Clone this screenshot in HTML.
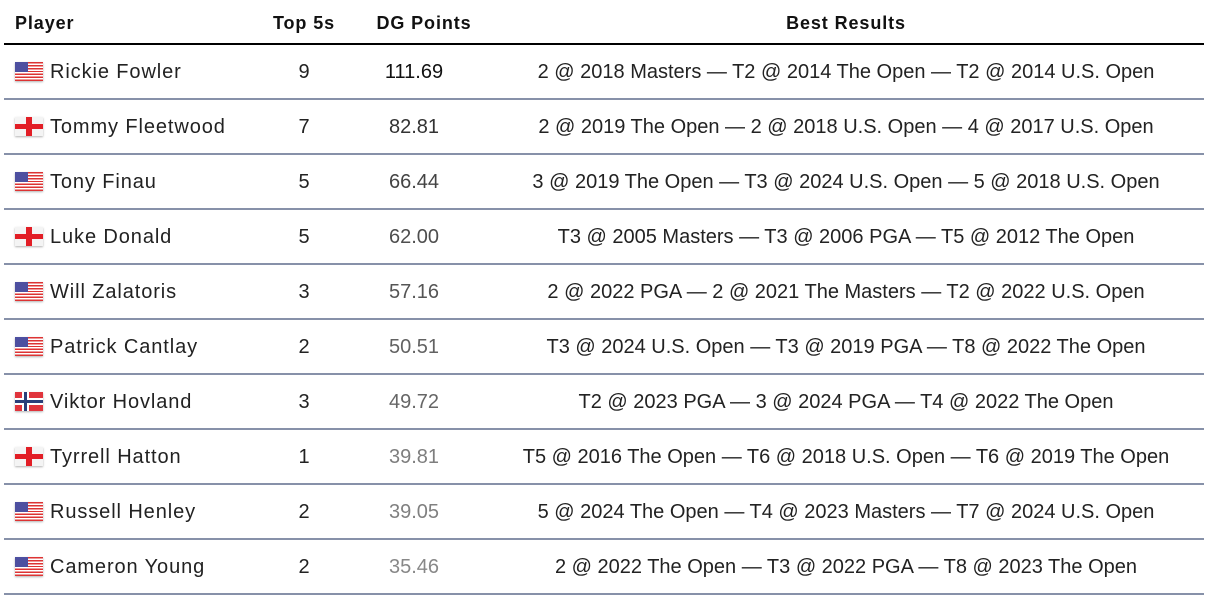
<!DOCTYPE html>
<html><head><style>
body{margin:0;width:1208px;height:598px;background:#fff;font-family:"Liberation Sans",Arial,sans-serif;color:#222;position:relative;overflow:hidden}
.h{position:absolute;top:13px;font-weight:bold;font-size:18px;letter-spacing:0.9px;color:#111}
.hl{position:absolute;left:4px;width:1200px;top:43px;height:2px;background:#000}
.row{position:absolute;left:0;width:1208px;height:55px}
.row .l{position:absolute;left:4px;width:1200px;bottom:0;height:2px;background:#8791a9}
.t{position:absolute;top:16px;font-size:20px;white-space:nowrap}
.n{letter-spacing:0.9px}
.c{transform:translateX(-50%)}
.flag{position:absolute;left:15px;top:17px;width:28px;height:19px;box-shadow:0 1px 2px rgba(0,0,0,.3)}
.us{background:repeating-linear-gradient(#d33 0 1.46px,#fff 1.46px 2.92px)}
.us::before{content:"";position:absolute;left:0;top:0;width:13px;height:10px;background:#4d4fa0}
.en{background:#f4f4f4}
.en::before{content:"";position:absolute;left:11px;top:0;width:6px;height:19px;background:#e21e26}
.en::after{content:"";position:absolute;left:0;top:7px;width:28px;height:5px;background:#e21e26}
.no{background:#e0343c}
.no::before{content:"";position:absolute;left:7px;top:0;width:7px;height:19px;background:#fff}
.no::after{content:"";position:absolute;left:0;top:6px;width:28px;height:7px;background:linear-gradient(#fff 0 2px,#2a3f7a 2px 5px,#fff 5px)}
.nob{position:absolute;left:9px;top:0;width:3px;height:19px;background:#2a3f7a;z-index:1}
</style></head><body>
<div class="h" style="left:15px">Player</div>
<div class="h" style="left:304px;transform:translateX(-50%)">Top 5s</div>
<div class="h" style="left:424px;transform:translateX(-50%)">DG Points</div>
<div class="h" style="left:846px;transform:translateX(-50%)">Best Results</div>
<div class="hl"></div>

<div class="row" style="top:45px"><div class="flag us"></div><div class="t n" style="left:50px">Rickie Fowler</div><div class="t c" style="left:304px">9</div><div class="t c" style="left:414px;color:#111">111.69</div><div class="t c" style="left:846px">2 @ 2018 Masters — T2 @ 2014 The Open — T2 @ 2014 U.S. Open</div><div class="l"></div></div>
<div class="row" style="top:100px"><div class="flag en"></div><div class="t n" style="left:50px">Tommy Fleetwood</div><div class="t c" style="left:304px">7</div><div class="t c" style="left:414px;color:#333">82.81</div><div class="t c" style="left:846px">2 @ 2019 The Open — 2 @ 2018 U.S. Open — 4 @ 2017 U.S. Open</div><div class="l"></div></div>
<div class="row" style="top:155px"><div class="flag us"></div><div class="t n" style="left:50px">Tony Finau</div><div class="t c" style="left:304px">5</div><div class="t c" style="left:414px;color:#444">66.44</div><div class="t c" style="left:846px">3 @ 2019 The Open — T3 @ 2024 U.S. Open — 5 @ 2018 U.S. Open</div><div class="l"></div></div>
<div class="row" style="top:210px"><div class="flag en"></div><div class="t n" style="left:50px">Luke Donald</div><div class="t c" style="left:304px">5</div><div class="t c" style="left:414px;color:#4e4e4e">62.00</div><div class="t c" style="left:846px">T3 @ 2005 Masters — T3 @ 2006 PGA — T5 @ 2012 The Open</div><div class="l"></div></div>
<div class="row" style="top:265px"><div class="flag us"></div><div class="t n" style="left:50px">Will Zalatoris</div><div class="t c" style="left:304px">3</div><div class="t c" style="left:414px;color:#555">57.16</div><div class="t c" style="left:846px">2 @ 2022 PGA — 2 @ 2021 The Masters — T2 @ 2022 U.S. Open</div><div class="l"></div></div>
<div class="row" style="top:320px"><div class="flag us"></div><div class="t n" style="left:50px">Patrick Cantlay</div><div class="t c" style="left:304px">2</div><div class="t c" style="left:414px;color:#626262">50.51</div><div class="t c" style="left:846px">T3 @ 2024 U.S. Open — T3 @ 2019 PGA — T8 @ 2022 The Open</div><div class="l"></div></div>
<div class="row" style="top:375px"><div class="flag no"><div class="nob"></div></div><div class="t n" style="left:50px">Viktor Hovland</div><div class="t c" style="left:304px">3</div><div class="t c" style="left:414px;color:#666">49.72</div><div class="t c" style="left:846px">T2 @ 2023 PGA — 3 @ 2024 PGA — T4 @ 2022 The Open</div><div class="l"></div></div>
<div class="row" style="top:430px"><div class="flag en"></div><div class="t n" style="left:50px">Tyrrell Hatton</div><div class="t c" style="left:304px">1</div><div class="t c" style="left:414px;color:#7e7e7e">39.81</div><div class="t c" style="left:846px">T5 @ 2016 The Open — T6 @ 2018 U.S. Open — T6 @ 2019 The Open</div><div class="l"></div></div>
<div class="row" style="top:485px"><div class="flag us"></div><div class="t n" style="left:50px">Russell Henley</div><div class="t c" style="left:304px">2</div><div class="t c" style="left:414px;color:#808080">39.05</div><div class="t c" style="left:846px">5 @ 2024 The Open — T4 @ 2023 Masters — T7 @ 2024 U.S. Open</div><div class="l"></div></div>
<div class="row" style="top:540px"><div class="flag us"></div><div class="t n" style="left:50px">Cameron Young</div><div class="t c" style="left:304px">2</div><div class="t c" style="left:414px;color:#888">35.46</div><div class="t c" style="left:846px">2 @ 2022 The Open — T3 @ 2022 PGA — T8 @ 2023 The Open</div><div class="l"></div></div>
</body></html>
